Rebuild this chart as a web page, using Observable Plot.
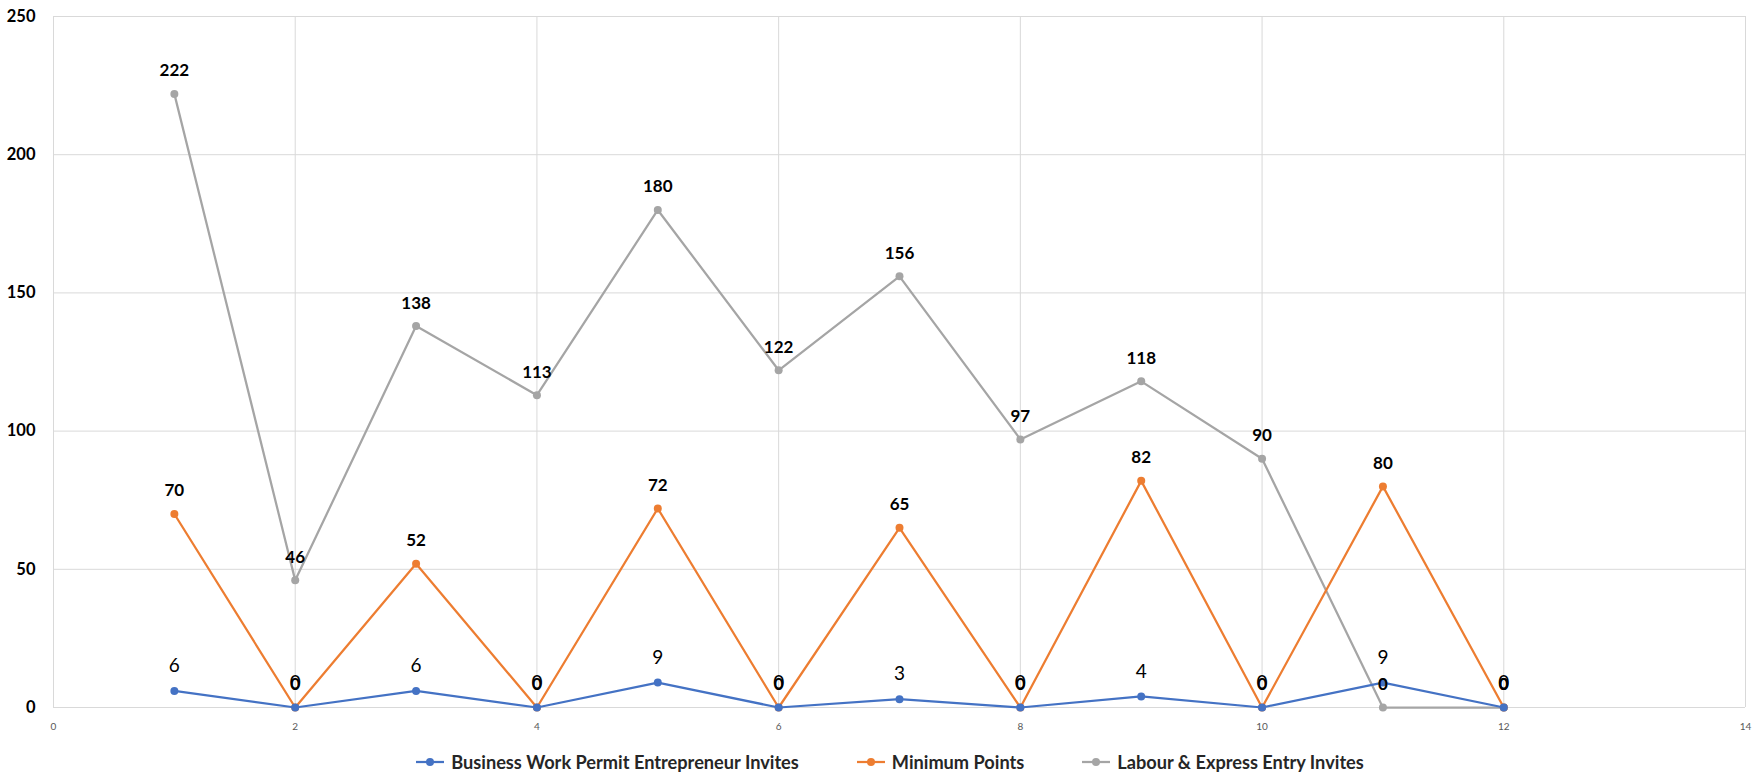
<!DOCTYPE html>
<html>
<head>
<meta charset="utf-8">
<script src="https://cdn.jsdelivr.net/npm/d3@7"></script>
<script src="https://cdn.jsdelivr.net/npm/@observablehq/plot@0.6"></script>
<style>
  html, body { margin: 0; padding: 0; background: #fff; }
  #chart { width: 1762px; }
  .legend { display: flex; justify-content: center; align-items: center; gap: 58px; margin-top: 11px; margin-left: 18px;
            font-family: Lato, "Open Sans", sans-serif; font-weight: bold; font-size: 18.2px; color: #262626; }
  .legend .item { display: flex; align-items: center; gap: 7px; }
</style>
</head>
<body>
<div id="chart"></div>
<script>
const rounds = [1, 2, 3, 4, 5, 6, 7, 8, 9, 10, 11, 12];
const businessInvites = [6, 0, 6, 0, 9, 0, 3, 0, 4, 0, 9, 0];
const minimumPoints = [70, 0, 52, 0, 72, 0, 65, 0, 82, 0, 80, 0];
const labourInvites = [222, 46, 138, 113, 180, 122, 156, 97, 118, 90, 0, 0];
const seriesNames = ["Business Work Permit Entrepreneur Invites", "Minimum Points", "Labour & Express Entry Invites"];
const seriesColors = ["#4472C4", "#ED7D31", "#A5A5A5"];
const xTicks = [0, 2, 4, 6, 8, 10, 12, 14];
const yTicks = [0, 50, 100, 150, 200, 250];

const seriesValues = [businessInvites, minimumPoints, labourInvites];
const rows = seriesNames.map((name, i) => rounds.map((r, j) => ({series: name, x: r, y: seriesValues[i][j]})));
const font = "Lato, 'Open Sans', sans-serif";

const marks = [
  Plot.gridX(xTicks, {stroke: "#d9d9d9", strokeOpacity: 1, strokeWidth: 1}),
  Plot.gridY(yTicks, {stroke: "#d9d9d9", strokeOpacity: 1, strokeWidth: 1}),
  Plot.axisY(yTicks, {tickSize: 0, tickPadding: 18, fontSize: 16.5, fontWeight: "bold", fill: "#000", label: null, fontFamily: font, tickFormat: d3.format("d")}),
  Plot.axisX(xTicks, {tickSize: 0, tickPadding: 15, fontSize: 10, fill: "#595959", label: null, fontFamily: font, tickFormat: d3.format("d")})
];
[2, 1, 0].forEach(i => {
  marks.push(Plot.line(rows[i], {x: "x", y: "y", stroke: seriesColors[i], strokeWidth: 2.25}));
  marks.push(Plot.dot(rows[i], {x: "x", y: "y", r: 4, fill: seriesColors[i], stroke: null}));
});
marks.push(Plot.text(rows[0], {x: "x", y: "y", text: d => String(d.y), dy: -25, fontSize: 19, fill: "#000", fontFamily: font}));
marks.push(Plot.text(rows[1], {x: "x", y: "y", text: d => String(d.y), dy: -23, fontSize: 17, fontWeight: "bold", fill: "#000", fontFamily: font}));
marks.push(Plot.text(rows[2], {x: "x", y: "y", text: d => String(d.y), dy: -23, fontSize: 17, fontWeight: "bold", fill: "#000", fontFamily: font}));

const chart = Plot.plot({
  width: 1762,
  height: 740,
  marginLeft: 53,
  marginRight: 17,
  marginTop: 16,
  marginBottom: 33,
  x: {domain: [0, 14]},
  y: {domain: [0, 250]},
  style: {fontFamily: font, background: "#fff", overflow: "visible"},
  marks
});
document.getElementById("chart").appendChild(chart);

const legend = document.createElement("div");
legend.className = "legend";
seriesNames.forEach((name, i) => {
  const item = document.createElement("div");
  item.className = "item";
  item.innerHTML = `<svg width="28" height="10"><line x1="0" y1="5" x2="28" y2="5" stroke="${seriesColors[i]}" stroke-width="2.25"/><circle cx="14" cy="5" r="4" fill="${seriesColors[i]}"/></svg><span>${name}</span>`;
  legend.appendChild(item);
});
document.getElementById("chart").appendChild(legend);
</script>
</body>
</html>
